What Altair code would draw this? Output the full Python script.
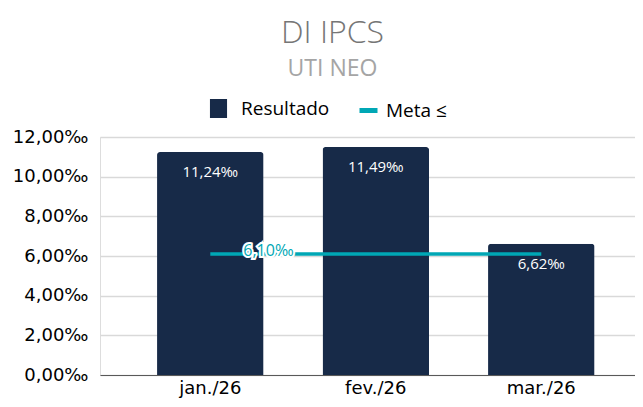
import altair as alt
import pandas as pd

months = ["jan./26", "fev./26", "mar./26"]
resultado = [11.24, 11.49, 6.62]
meta = [6.10, 6.10, 6.10]
series_names = ["Resultado", "Meta ≤"]
y_ticks = [0, 2, 4, 6, 8, 10, 12]

NAVY = "#172a48"
TEAL = "#00a7b5"

bars_df = pd.DataFrame({"month": months, "value": resultado, "series": series_names[0]})
meta_df = pd.DataFrame({"month": months, "value": meta, "series": series_names[1]})

fmt = "replace(format(datum.value, '.2f'), '.', ',') + '‰'"

x = alt.X(
    "month:N", sort=months, title=None,
    scale=alt.Scale(paddingInner=0.3565, paddingOuter=0.2946, align=0.585),
    axis=alt.Axis(labelAngle=0, ticks=False, domainColor="#595959", domainWidth=1,
                  labelFont="DejaVu Sans", labelFontSize=18, labelColor="#000000",
                  labelPadding=4, grid=False),
)
y = alt.Y(
    "value:Q", title=None,
    scale=alt.Scale(domain=[0, 12], nice=False, zero=True),
    axis=alt.Axis(values=y_ticks, labelExpr=fmt, domain=False, ticks=False,
                  gridColor="#d9d9d9", gridWidth=1.5, labelPadding=12,
                  labelFont="DejaVu Sans", labelFontSize=18, labelColor="#000000",
                  minExtent=92, maxExtent=92),
)
legend_common = dict(title=None, orient="none", direction="horizontal", legendY=-38,
                     labelFont="Open Sans", labelFontSize=19, labelColor="#000000")
color = alt.Color(
    "series:N",
    scale=alt.Scale(domain=[series_names[0]], range=[NAVY]),
    legend=alt.Legend(legendX=109, symbolType="M-0.9,-1H0.9V1H-0.9Z", symbolSize=361,
                      symbolStrokeWidth=0, symbolOpacity=1, labelOffset=13, **legend_common),
)
stroke = alt.Stroke(
    "series:N",
    scale=alt.Scale(domain=[series_names[1]], range=[TEAL]),
    legend=alt.Legend(legendX=257, symbolType="M-1,0H1", symbolSize=324,
                      symbolStrokeWidth=5, symbolOpacity=1, labelOffset=6, **legend_common),
)

bars = alt.Chart(bars_df).mark_bar(cornerRadiusTopLeft=3, cornerRadiusTopRight=3).encode(
    x=x, y=y, color=color
)
bar_labels = alt.Chart(bars_df).transform_calculate(lbl=fmt).mark_text(
    color="white", font="Open Sans", fontSize=15, align="center", baseline="alphabetic", dy=25
).encode(x=x, y=y, text="lbl:N")

line = alt.Chart(meta_df).mark_line(strokeWidth=3.5).encode(x=x, y=y, stroke=stroke)

meta_first = alt.Chart(meta_df).transform_filter(
    alt.datum.month == months[0]
).transform_calculate(lbl=fmt)
halo = meta_first.mark_text(
    color="white", stroke="white", strokeWidth=4, font="Open Sans", fontSize=16,
    align="left", baseline="alphabetic", dx=33, dy=2
).encode(x=x, y=y, text="lbl:N")
meta_label = meta_first.mark_text(
    color=TEAL, font="Open Sans", fontSize=16, align="left", baseline="alphabetic", dx=33, dy=2
).encode(x=x, y=y, text="lbl:N")

chart = alt.layer(bars, bar_labels, line, halo, meta_label).properties(
    width=535, height=238,
    autosize=alt.AutoSizeParams(type="none"),
    padding={"left": 92, "top": 129, "right": 0, "bottom": 24},
    title=alt.TitleParams(
        text="DI IPCS", subtitle="UTI NEO", anchor="middle", frame="group", dx=-35,
        font="Open Sans", fontSize=32, fontWeight=300, color="#767676",
        subtitleFont="Open Sans", subtitleFontSize=23, subtitleColor="#a5a5a5",
        subtitlePadding=8, offset=17,
    ),
).configure_view(stroke=None).configure(background="white")

chart.save("out.html", embed_options={"renderer": "svg", "actions": False})
